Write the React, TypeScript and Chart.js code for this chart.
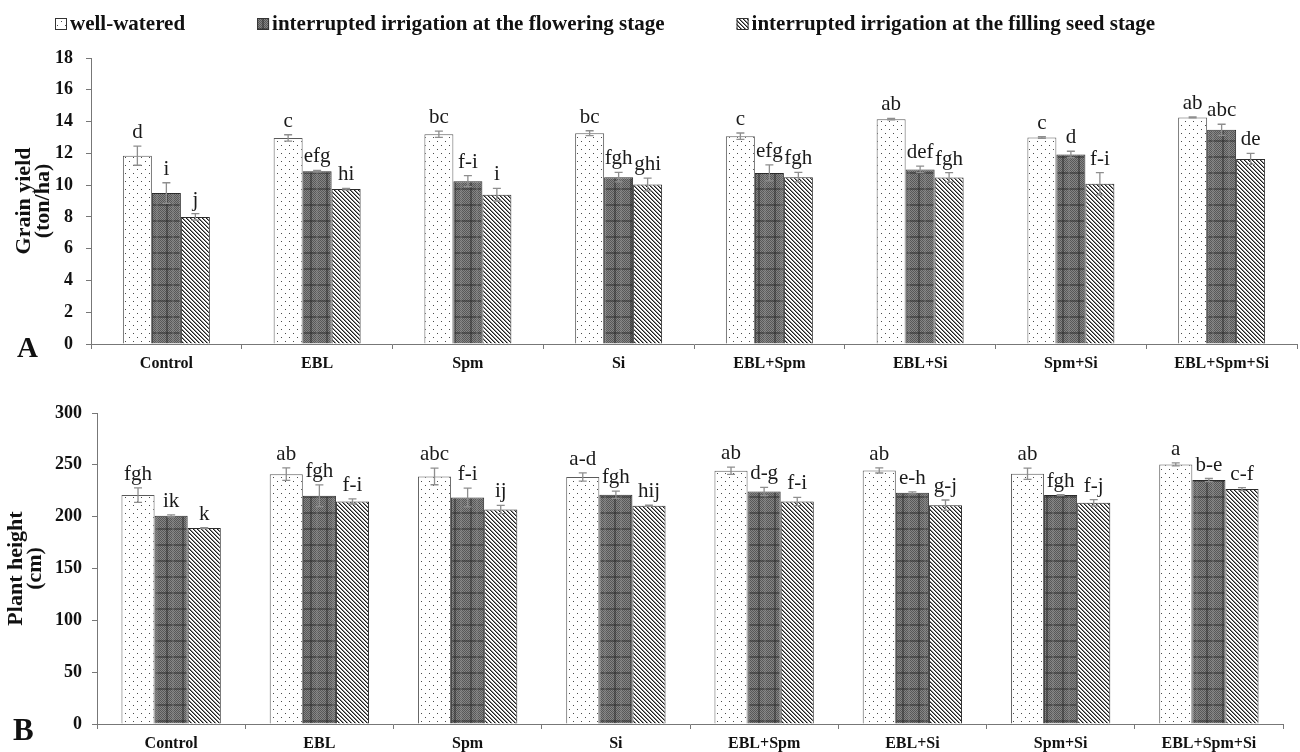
import React, { useEffect, useRef } from 'react';
import { Chart, registerables } from 'chart.js';

Chart.register(...registerables);

const FONT = '"Liberation Serif", "Times New Roman", serif';

const categories = ['Control', 'EBL', 'Spm', 'Si', 'EBL+Spm', 'EBL+Si', 'Spm+Si', 'EBL+Spm+Si'];
const seriesNames = [
  'well-watered',
  'interrupted irrigation at the flowering stage',
  'interrupted irrigation at the filling seed stage',
];

// Panel A: grain yield (ton/ha)
const yieldWell = [11.85, 12.97, 13.2, 13.27, 13.08, 14.15, 13.0, 14.26];
const yieldFlower = [9.5, 10.88, 10.25, 10.5, 10.77, 10.99, 11.93, 13.48];
const yieldFill = [8.0, 9.75, 9.4, 10.04, 10.5, 10.48, 10.08, 11.65];
const yieldWellErr = [0.6, 0.2, 0.2, 0.15, 0.2, 0.05, 0.05, 0.03];
const yieldFlowerErr = [0.65, 0.05, 0.35, 0.3, 0.5, 0.2, 0.2, 0.35];
const yieldFillErr = [0.2, 0.05, 0.4, 0.4, 0.3, 0.3, 0.7, 0.35];
const yieldWellLetters = ['d', 'c', 'bc', 'bc', 'c', 'ab', 'c', 'ab'];
const yieldFlowerLetters = ['i', 'efg', 'f-i', 'fgh', 'efg', 'def', 'd', 'abc'];
const yieldFillLetters = ['j', 'hi', 'i', 'ghi', 'fgh', 'fgh', 'f-i', 'de'];
const yieldMax = 18;
const yieldStep = 2;
const yieldTitle = ['Grain yield', '(ton/ha)'];

// Panel B: plant height (cm)
const heightWell = [220.8, 241, 238.8, 238.2, 244.3, 244.6, 241.4, 250.4];
const heightFlower = [200.8, 220.1, 218.5, 221.1, 224.3, 223, 220.8, 235.3];
const heightFill = [189, 214.7, 206.9, 210.5, 214.7, 211.1, 213.4, 226.6];
const heightWellErr = [7, 6, 8, 4, 3.5, 2.5, 5.5, 1.5];
const heightFlowerErr = [1, 10.5, 9, 3.5, 4, 1, 0.5, 1.5];
const heightFillErr = [0.5, 2.5, 4, 0.5, 4, 5, 3, 1.5];
const heightWellLetters = ['fgh', 'ab', 'abc', 'a-d', 'ab', 'ab', 'ab', 'a'];
const heightFlowerLetters = ['ik', 'fgh', 'f-i', 'fgh', 'd-g', 'e-h', 'fgh', 'b-e'];
const heightFillLetters = ['k', 'f-i', 'ij', 'hij', 'f-i', 'g-j', 'f-j', 'c-f'];
const heightMax = 300;
const heightStep = 50;
const heightTitle = ['Plant height', '(cm)'];

function makePattern(kind: string): CanvasPattern | string {
  const c = document.createElement('canvas');
  const g = c.getContext('2d');
  if (!g) return '#999';
  if (kind === 'dots') {
    c.width = 8; c.height = 8;
    g.fillStyle = '#ffffff'; g.fillRect(0, 0, 8, 8);
    g.fillStyle = '#4a4a4a';
    g.fillRect(1, 1, 1, 1);
    g.fillRect(5, 5, 1, 1);
  } else if (kind === 'plaid') {
    c.width = 16; c.height = 16;
    for (let y = 0; y < 16; y++) {
      for (let x = 0; x < 16; x++) {
        g.fillStyle = (x + y) % 2 === 0 ? '#585858' : '#858585';
        g.fillRect(x, y, 1, 1);
      }
    }
    g.fillStyle = 'rgba(40,40,40,0.45)';
    g.fillRect(6, 0, 2, 16);
    g.fillRect(0, 12, 16, 2);
    g.fillStyle = 'rgba(150,150,150,0.25)';
    g.fillRect(12, 0, 2, 16);
  } else {
    c.width = 4; c.height = 4;
    g.fillStyle = '#ffffff'; g.fillRect(0, 0, 4, 4);
    for (let i = 0; i < 4; i++) {
      g.fillStyle = '#1e1e1e';
      g.fillRect(i, i, 1, 1);
      g.fillStyle = '#8a8a8a';
      g.fillRect((i + 1) % 4, i, 1, 1);
    }
  }
  const p = g.createPattern(c, 'repeat');
  return p || '#999';
}

type PanelProps = {
  values: number[][];
  errors: number[][];
  letters: string[][];
  max: number;
  step: number;
  title: string[];
  panel: string;
  width: number;
  height: number;
  padTop: number;
  padRight: number;
  axisWidth: number;
  tickPad: number;
  titlePad: number;
  catPct: number;
  panelBaseline: number;
  panelX: number;
  panelSize: number;
  showLegend: boolean;
};

function Panel(props: PanelProps) {
  const ref = useRef<HTMLCanvasElement | null>(null);
  useEffect(() => {
    const canvas = ref.current;
    if (!canvas) return;
    const patterns = [makePattern('dots'), makePattern('plaid'), makePattern('diag')];

    const errPlugin = {
      id: 'errLetters',
      afterDatasetsDraw(chart: any) {
        const ctx = chart.ctx;
        const ys = chart.scales.y;
        chart.data.datasets.forEach((ds: any, i: number) => {
          const meta = chart.getDatasetMeta(i);
          meta.data.forEach((bar: any, j: number) => {
            const v = ds.data[j] as number;
            const e = props.errors[i][j];
            const yt = ys.getPixelForValue(v + e);
            const yb = ys.getPixelForValue(v - e);
            ctx.save();
            ctx.strokeStyle = '#8e8e8e';
            ctx.lineWidth = 1.3;
            ctx.beginPath();
            ctx.moveTo(bar.x, yt); ctx.lineTo(bar.x, yb);
            ctx.moveTo(bar.x - 4, yt); ctx.lineTo(bar.x + 4, yt);
            ctx.moveTo(bar.x - 4, yb); ctx.lineTo(bar.x + 4, yb);
            ctx.stroke();
            ctx.fillStyle = '#1a1a1a';
            ctx.font = `21px ${FONT}`;
            ctx.textAlign = 'center';
            ctx.textBaseline = 'alphabetic';
            ctx.fillText(props.letters[i][j], bar.x, yt - 8);
            ctx.restore();
          });
        });
      },
    };

    const decoPlugin = {
      id: 'deco',
      afterDraw(chart: any) {
        const ctx = chart.ctx;
        ctx.save();
        ctx.fillStyle = '#111';
        ctx.font = `bold ${props.panelSize}px ${FONT}`;
        ctx.textAlign = 'left';
        ctx.textBaseline = 'alphabetic';
        ctx.fillText(props.panel, props.panelX, props.panelBaseline);
        if (props.showLegend) {
          ctx.font = `bold 21px ${FONT}`;
          ctx.textBaseline = 'middle';
          let x = 55;
          const y = 24;
          seriesNames.forEach((name, i) => {
            ctx.fillStyle = patterns[i];
            ctx.fillRect(x, y - 6, 12, 12);
            ctx.strokeStyle = '#333';
            ctx.lineWidth = 1;
            ctx.strokeRect(x + 0.5, y - 5.5, 11, 11);
            ctx.fillStyle = '#111';
            ctx.fillText(name, x + 15, y + 1);
            x += 15 + ctx.measureText(name).width + 72;
          });
        }
        ctx.restore();
      },
    };

    const chart = new Chart(canvas, {
      type: 'bar',
      data: {
        labels: categories,
        datasets: seriesNames.map((name, i) => ({
          label: name,
          data: props.values[i],
          backgroundColor: patterns[i] as any,
          borderColor: i === 0 ? '#5a5a5a' : '#2a2a2a',
          borderWidth: 1,
          categoryPercentage: props.catPct,
          barPercentage: 1,
        })),
      },
      options: {
        responsive: false,
        animation: false,
        devicePixelRatio: 1,
        layout: { padding: { left: 0, right: props.padRight, top: props.padTop, bottom: 0 } },
        plugins: { legend: { display: false }, tooltip: { enabled: false } },
        scales: {
          x: {
            type: 'category',
            offset: true,
            grid: { offset: true, drawOnChartArea: false, tickLength: 5, color: '#777' },
            border: { color: '#777', width: 1 },
            ticks: {
              color: '#111',
              font: { family: FONT, weight: 'bold', size: 16 },
              padding: 5,
              maxRotation: 0,
              autoSkip: false,
            },
            afterFit: (s: any) => { s.height = 28; },
          },
          y: {
            min: 0,
            max: props.max,
            grid: { drawOnChartArea: false, tickLength: 5, color: '#777' },
            border: { color: '#777', width: 1 },
            ticks: {
              stepSize: props.step,
              color: '#111',
              font: { family: FONT, weight: 'bold', size: 18 },
              padding: props.tickPad,
            },
            title: {
              display: true,
              text: props.title,
              color: '#111',
              font: { family: FONT, weight: 'bold', size: 22, lineHeight: 0.87 },
              padding: { top: props.titlePad, bottom: 0 },
            },
            afterFit: (s: any) => { s.width = props.axisWidth; },
          },
        },
      } as any,
      plugins: [errPlugin, decoPlugin],
    });
    return () => chart.destroy();
  }, []);
  return (
    <canvas
      ref={ref}
      width={props.width}
      height={props.height}
      style={{ display: 'block', width: props.width, height: props.height }}
    />
  );
}

export default function App() {
  return (
    <div style={{ position: 'absolute', left: 0, top: 0, width: 1300, height: 752, background: '#fff' }}>
      <Panel
        values={[yieldWell, yieldFlower, yieldFill]}
        errors={[yieldWellErr, yieldFlowerErr, yieldFillErr]}
        letters={[yieldWellLetters, yieldFlowerLetters, yieldFillLetters]}
        max={yieldMax}
        step={yieldStep}
        title={yieldTitle}
        panel="A"
        width={1300}
        height={372}
        padTop={58}
        padRight={3}
        axisWidth={91}
        tickPad={13}
        titlePad={15}
        catPct={0.577}
        panelBaseline={357}
        panelX={17}
        panelSize={29}
        showLegend={true}
      />
      <Panel
        values={[heightWell, heightFlower, heightFill]}
        errors={[heightWellErr, heightFlowerErr, heightFillErr]}
        letters={[heightWellLetters, heightFlowerLetters, heightFillLetters]}
        max={heightMax}
        step={heightStep}
        title={heightTitle}
        panel="B"
        width={1300}
        height={380}
        padTop={41}
        padRight={17}
        axisWidth={97}
        tickPad={10}
        titlePad={7}
        catPct={0.67}
        panelBaseline={368}
        panelX={13}
        panelSize={31}
        showLegend={false}
      />
    </div>
  );
}
